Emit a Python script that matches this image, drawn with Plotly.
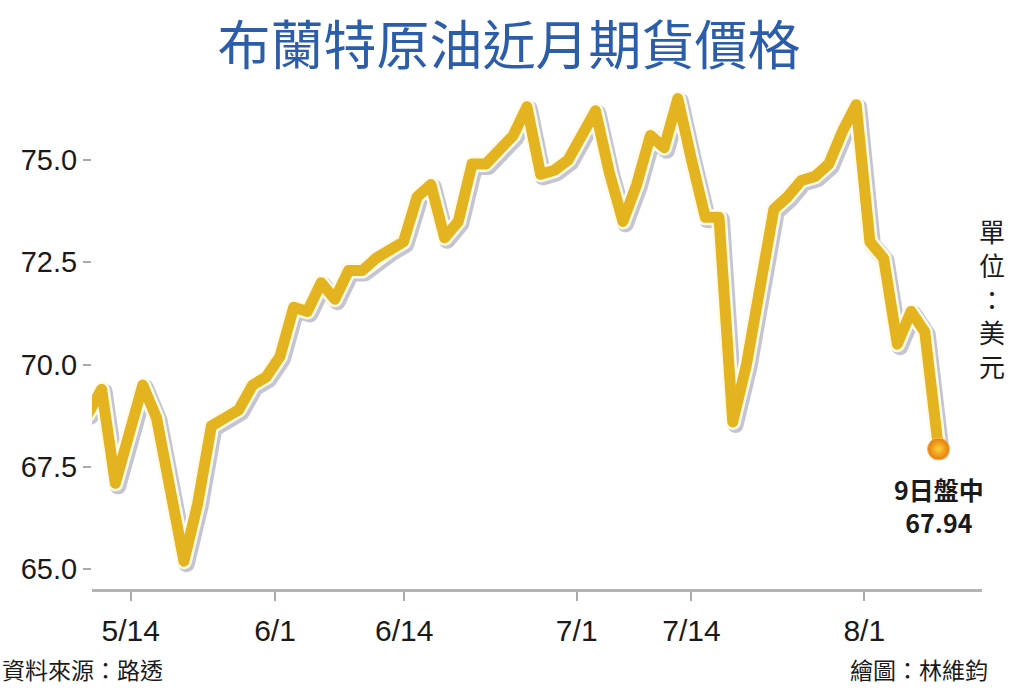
import plotly.graph_objects as go

# ---- data ----
dates = [
    "5/11", "5/12", "5/13", "5/14", "5/17", "5/18", "5/19", "5/20", "5/21",
    "5/24", "5/25", "5/26", "5/27", "5/28",
    "6/1", "6/2", "6/3", "6/4", "6/7", "6/8", "6/9", "6/10", "6/11",
    "6/14", "6/15", "6/16", "6/17", "6/18", "6/21", "6/22", "6/23", "6/24",
    "6/25", "6/28", "6/29", "6/30",
    "7/1", "7/2", "7/6", "7/7", "7/8", "7/9", "7/12", "7/13", "7/14",
    "7/15", "7/16", "7/19", "7/20", "7/21", "7/22", "7/23", "7/26", "7/27",
    "7/28", "7/29", "7/30",
    "8/2", "8/3", "8/4", "8/5", "8/6", "8/9",
]
prices = [
    68.8, 69.4, 67.1, 68.4, 69.5, 68.7, 66.8, 65.2, 66.6,
    68.5, 68.7, 68.9, 69.5, 69.7,
    70.2, 71.4, 71.3, 72.0, 71.6, 72.3, 72.3, 72.6, 72.8,
    73.0, 74.1, 74.4, 73.1, 73.5, 74.9, 74.9, 75.25, 75.6,
    76.3, 74.65, 74.75, 75.0,
    75.6, 76.2, 74.7, 73.5, 74.4, 75.6, 75.3, 76.5, 75.0,
    73.6, 73.6, 68.6, 70.0, 72.1, 73.8, 74.1, 74.5, 74.6,
    74.9, 75.7, 76.35,
    73.0, 72.6, 70.5, 71.3, 70.8, 67.94,
]
# x-axis tick labels and their positions (in trading-day index units)
tick_labels = ["5/14", "6/1", "6/14", "7/1", "7/14", "8/1"]
tick_pos = [3.12, 13.64, 23.06, 35.63, 43.99, 56.59]
y_ticks = [65.0, 67.5, 70.0, 72.5, 75.0]

last_label = "9日盤中"
last_value_text = "67.94"

x_idx = [i for i, _ in enumerate(dates)]

# ---- layout geometry ----
W, H = 1024, 699
ML, MR, MT, MB = 92, 42, 88, 110
plot_w = W - ML - MR
plot_h = H - MT - MB
x_range = [0.299, 65.17]
y_range = [64.519, 76.759]
px_x = plot_w / (x_range[1] - x_range[0])
px_y = plot_h / (y_range[1] - y_range[0])
# shadow offset (pixels) -> data units for the shadow axes
sdx, sdy = 2.5 / px_x, 2.5 / px_y

GOLD = "#e3b320"
TXT = "#1a1a1a"
FONT = "Liberation Sans, Arial, sans-serif"
CJK = "Noto Sans CJK TC, Noto Sans CJK SC, sans-serif"

fig = go.Figure()

# shadow on base axes (shifted range)
fig.add_trace(go.Scatter(
    x=x_idx, y=prices, mode="lines", xaxis="x", yaxis="y",
    line=dict(color="rgba(170,172,195,0.7)", width=17),
    hoverinfo="skip", showlegend=False,
))
# halo
fig.add_trace(go.Scatter(
    x=x_idx, y=prices, mode="lines", xaxis="x2", yaxis="y2",
    line=dict(color="#fffbe8", width=16),
    hoverinfo="skip", showlegend=False,
))
# main line
fig.add_trace(go.Scatter(
    x=x_idx, y=prices, mode="lines", xaxis="x2", yaxis="y2",
    line=dict(color=GOLD, width=11),
    showlegend=False,
))
# end ball
fig.add_trace(go.Scatter(
    x=[x_idx[-1]], y=[prices[-1]], mode="markers", xaxis="x2", yaxis="y2",
    marker=dict(size=22, color="#e8780c",
                gradient=dict(type="radial", color="#f9d43a"),
                line=dict(color="#f2c25a", width=1)),
    showlegend=False, cliponaxis=False,
))

fig.update_layout(
    width=W, height=H,
    margin=dict(l=ML, r=MR, t=MT, b=MB),
    paper_bgcolor="white", plot_bgcolor="white",
    showlegend=False,
    title=dict(
        text="布蘭特原油近月期貨價格",
        x=0.497, xanchor="center", y=1 - 46 / H, yanchor="middle",
        font=dict(family=CJK, size=53, color="#2b5dab"),
    ),
    xaxis=dict(
        range=[x_range[0] - sdx, x_range[1] - sdx],
        visible=False, fixedrange=True,
    ),
    yaxis=dict(
        range=[y_range[0] + sdy, y_range[1] + sdy],
        visible=False, fixedrange=True,
    ),
    xaxis2=dict(
        range=x_range, overlaying="x", anchor="y2",
        tickmode="array", tickvals=tick_pos, ticktext=tick_labels,
        ticks="outside", ticklen=9, tickwidth=2, tickcolor="#aaaaaa",
        showline=True, linecolor="#b4b4b4", linewidth=3,
        showgrid=False, zeroline=False,
        tickfont=dict(family=FONT, size=30, color=TXT),
        ticklabelstandoff=4,
    ),
    yaxis2=dict(
        range=y_range, overlaying="y", anchor="x2",
        tickmode="array", tickvals=y_ticks,
        ticktext=[f"{v:.1f}" for v in y_ticks],
        ticks="outside", ticklen=8, tickwidth=2, tickcolor="#aaaaaa",
        showline=False, showgrid=False, zeroline=False,
        tickfont=dict(family=FONT, size=29, color=TXT),
        ticklabelstandoff=0,
    ),
)

# end-point label
fig.add_annotation(
    xref="x2", yref="y2", x=x_idx[-1], y=prices[-1],
    text=f"<b>{last_label}</b><br><b>{last_value_text}</b>",
    showarrow=False, xanchor="center", yanchor="top", yshift=-20,
    font=dict(family=CJK, size=25, color=TXT), align="center",
)
# unit (vertical)
fig.add_annotation(
    xref="paper", yref="paper", x=(992 - ML) / plot_w, y=(H - MB - 298) / plot_h,
    text="單<br>位<br>：<br>美<br>元",
    showarrow=False, xanchor="center", yanchor="middle",
    font=dict(family=CJK, size=26, color=TXT), align="center",
)
# footer
fig.add_annotation(
    xref="paper", yref="paper", x=-ML / plot_w, y=-(669 - (H - MB)) / plot_h,
    text="資料來源：路透", showarrow=False, xanchor="left", yanchor="middle",
    font=dict(family=CJK, size=23, color=TXT),
)
fig.add_annotation(
    xref="paper", yref="paper", x=(990 - ML) / plot_w, y=-(669 - (H - MB)) / plot_h,
    text="繪圖：林維鈞", showarrow=False, xanchor="right", yanchor="middle",
    font=dict(family=CJK, size=23, color=TXT),
)

post = ("document.body.style.margin='0';"
        "document.querySelectorAll('.js-line').forEach(function(p){"
        "p.style.strokeLinejoin='round';p.style.strokeLinecap='round';});")
fig.write_html("out.html", config={"displayModeBar": False}, post_script=post)
